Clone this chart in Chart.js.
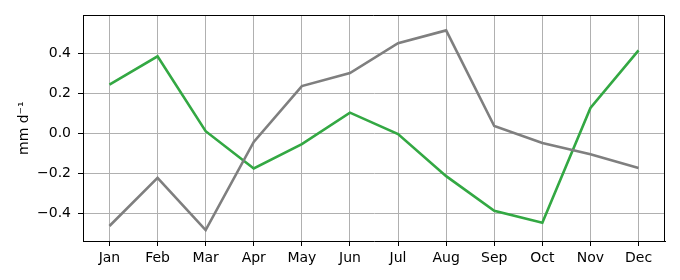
<!DOCTYPE html>
<html>
<head>
<meta charset="utf-8">
<script src="https://cdn.jsdelivr.net/npm/chart.js@4"></script>
<style>
  html, body { margin: 0; padding: 0; background: #fff; }
  #wrap { width: 680px; height: 280px; }
</style>
</head>
<body>
<div id="wrap"><canvas id="chart"></canvas></div>
<script>
// Data
const months = ['Jan', 'Feb', 'Mar', 'Apr', 'May', 'Jun', 'Jul', 'Aug', 'Sep', 'Oct', 'Nov', 'Dec'];
const grayValues = [-0.463, -0.222, -0.483, -0.042, 0.238, 0.303, 0.453, 0.517, 0.038, -0.047, -0.103, -0.172];
const greenValues = [0.245, 0.387, 0.012, -0.175, -0.053, 0.105, -0.002, -0.213, -0.387, -0.447, 0.128, 0.417];
const yTicks = [-0.4, -0.2, 0.0, 0.2, 0.4];
const yLabel = 'mm d\u207B\u00B9';

Chart.defaults.font.family = "'DejaVu Sans', sans-serif";
Chart.defaults.font.size = 14;
Chart.defaults.color = '#000';

const toPoints = vals => vals.map((v, i) => ({ x: i, y: v }));

// Top and right sides of the axes box
const frame = {
    id: 'frame',
    afterDraw(chart) {
        const { ctx, chartArea: a } = chart;
        const t = Math.round(a.top) + 0.5;
        const r = Math.round(a.right) - 0.5;
        ctx.save();
        ctx.strokeStyle = '#000';
        ctx.lineWidth = 1;
        ctx.beginPath();
        ctx.moveTo(a.left, t);
        ctx.lineTo(r, t);
        ctx.lineTo(r, a.bottom);
        ctx.stroke();
        ctx.restore();
    }
};

new Chart(document.getElementById('chart'), {
    type: 'line',
    data: {
        datasets: [
            {
                label: 'gray',
                data: toPoints(grayValues),
                borderColor: '#7f7f7f',
                borderWidth: 2.6,
                pointRadius: 0,
                tension: 0
            },
            {
                label: 'green',
                data: toPoints(greenValues),
                borderColor: '#33a843',
                borderWidth: 2.6,
                pointRadius: 0,
                tension: 0
            }
        ]
    },
    options: {
        responsive: true,
        maintainAspectRatio: false,
        animation: false,
        layout: { padding: { left: 0, right: 15, top: 15, bottom: 0 } },
        plugins: {
            legend: { display: false },
            tooltip: { enabled: false }
        },
        scales: {
            x: {
                type: 'linear',
                min: -0.55,
                max: 11.55,
                afterBuildTicks: axis => { axis.ticks = months.map((m, i) => ({ value: i })); },
                afterFit: axis => { axis.height = 39; },
                ticks: {
                    callback: v => months[v],
                    maxRotation: 0,
                    autoSkip: false,
                    padding: 4
                },
                grid: { color: '#b0b0b0', tickColor: '#000', tickLength: 5, lineWidth: 1 },
                border: { color: '#000' }
            },
            y: {
                min: -0.538,
                max: 0.592,
                afterBuildTicks: axis => { axis.ticks = yTicks.map(v => ({ value: v })); },
                afterFit: axis => { axis.width = 83; },
                ticks: {
                    callback: v => v.toFixed(1).replace('-', '\u2212'),
                    padding: 7
                },
                title: {
                    display: true,
                    text: yLabel,
                    padding: { top: 16, bottom: 0 }
                },
                grid: { color: '#b0b0b0', tickColor: '#000', tickLength: 5, lineWidth: 1 },
                border: { color: '#000' }
            }
        }
    },
    plugins: [frame]
});
</script>
</body>
</html>
